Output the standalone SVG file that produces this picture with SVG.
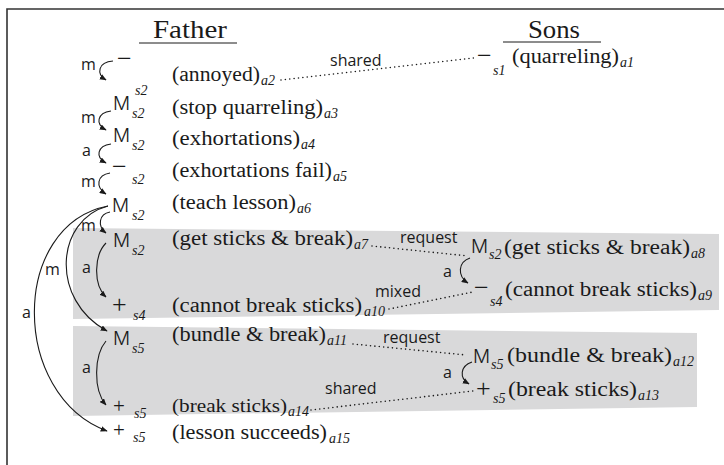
<svg xmlns="http://www.w3.org/2000/svg" width="724" height="465" viewBox="0 0 724 465">
<defs>
<marker id="ah" viewBox="0 0 10 8" refX="9" refY="4" markerWidth="7" markerHeight="6" markerUnits="userSpaceOnUse" orient="auto">
<path d="M0,0 L10,4 L0,8 z" fill="#1a1a1a"/>
</marker>
<style>
text{fill:#1a1a1a}
.arc{fill:none;stroke:#1a1a1a;stroke-width:1.1;marker-end:url(#ah)}
.dot{fill:none;stroke:#1a1a1a;stroke-width:1.6;stroke-dasharray:0 4.4;stroke-linecap:round}
.band{fill:#d9d9da}
.rule{stroke:#1a1a1a;stroke-width:1}
</style>
</defs>
<rect width="724" height="465" fill="#ffffff"/>
<path d="M7,465 L7,9 L724,9" fill="none" stroke="#333" stroke-width="1.6"/>
<polygon class="band" points="73,228 719,234 719,310 73,319"/>
<polygon class="band" points="73,326 697,333 697,407 73,416"/>

<g id="headings">
<text x="153" y="38" font-family="Liberation Serif" font-size="25" textLength="74" lengthAdjust="spacingAndGlyphs">Father</text>
<line class="rule" x1="139" y1="43" x2="237" y2="43"/>
<text x="528" y="38" font-family="Liberation Serif" font-size="25" textLength="52" lengthAdjust="spacingAndGlyphs">Sons</text>
<line class="rule" x1="503" y1="42" x2="601" y2="42"/>
</g>

<g id="nodes">
<g id="a1">
<text x="477" y="64" font-family="Liberation Serif" font-size="26">−</text>
<text x="493" y="75" font-family="Liberation Serif" font-size="14" font-style="italic">s1</text>
<text x="512" y="63" font-family="Liberation Serif" font-size="20" textLength="107" lengthAdjust="spacingAndGlyphs">(quarreling)</text>
<text x="620" y="67" font-family="Liberation Serif" font-size="14" font-style="italic">a1</text>
</g>
<g id="a2">
<text x="117" y="67" font-family="Liberation Serif" font-size="26">−</text>
<text x="135" y="95" font-family="Liberation Serif" font-size="14" font-style="italic">s2</text>
<text x="172" y="81" font-family="Liberation Serif" font-size="20" textLength="88" lengthAdjust="spacingAndGlyphs">(annoyed)</text>
<text x="261" y="85" font-family="Liberation Serif" font-size="14" font-style="italic">a2</text>
</g>
<g id="a3">
<text x="113" y="110" font-family="Inter" font-weight="300" font-size="19">M</text>
<text x="132" y="118" font-family="Liberation Serif" font-size="14" font-style="italic">s2</text>
<text x="172" y="114" font-family="Liberation Serif" font-size="20" textLength="151" lengthAdjust="spacingAndGlyphs">(stop quarreling)</text>
<text x="324" y="118" font-family="Liberation Serif" font-size="14" font-style="italic">a3</text>
</g>
<g id="a4">
<text x="113" y="142" font-family="Inter" font-weight="300" font-size="19">M</text>
<text x="132" y="150" font-family="Liberation Serif" font-size="14" font-style="italic">s2</text>
<text x="172" y="145" font-family="Liberation Serif" font-size="20" textLength="128" lengthAdjust="spacingAndGlyphs">(exhortations)</text>
<text x="301" y="149" font-family="Liberation Serif" font-size="14" font-style="italic">a4</text>
</g>
<g id="a5">
<text x="112" y="175" font-family="Liberation Serif" font-size="26">−</text>
<text x="132" y="184" font-family="Liberation Serif" font-size="14" font-style="italic">s2</text>
<text x="172" y="177" font-family="Liberation Serif" font-size="20" textLength="160" lengthAdjust="spacingAndGlyphs">(exhortations fail)</text>
<text x="333" y="181" font-family="Liberation Serif" font-size="14" font-style="italic">a5</text>
</g>
<g id="a6">
<text x="112" y="212" font-family="Inter" font-weight="300" font-size="19">M</text>
<text x="132" y="220" font-family="Liberation Serif" font-size="14" font-style="italic">s2</text>
<text x="172" y="209" font-family="Liberation Serif" font-size="20" textLength="124" lengthAdjust="spacingAndGlyphs">(teach lesson)</text>
<text x="297" y="213" font-family="Liberation Serif" font-size="14" font-style="italic">a6</text>
</g>
<g id="a7">
<text x="113" y="247" font-family="Inter" font-weight="300" font-size="19">M</text>
<text x="132" y="255" font-family="Liberation Serif" font-size="14" font-style="italic">s2</text>
<text x="172" y="245" font-family="Liberation Serif" font-size="20" textLength="181" lengthAdjust="spacingAndGlyphs">(get sticks &amp; break)</text>
<text x="354" y="249" font-family="Liberation Serif" font-size="14" font-style="italic">a7</text>
</g>
<g id="a8">
<text x="471" y="253" font-family="Inter" font-weight="300" font-size="19">M</text>
<text x="489" y="259" font-family="Liberation Serif" font-size="14" font-style="italic">s2</text>
<text x="504" y="254" font-family="Liberation Serif" font-size="20" textLength="186" lengthAdjust="spacingAndGlyphs">(get sticks &amp; break)</text>
<text x="691" y="258" font-family="Liberation Serif" font-size="14" font-style="italic">a8</text>
</g>
<g id="a9">
<text x="474" y="296" font-family="Liberation Serif" font-size="26">−</text>
<text x="490" y="306" font-family="Liberation Serif" font-size="14" font-style="italic">s4</text>
<text x="505" y="296" font-family="Liberation Serif" font-size="20" textLength="192" lengthAdjust="spacingAndGlyphs">(cannot break sticks)</text>
<text x="698" y="300" font-family="Liberation Serif" font-size="14" font-style="italic">a9</text>
</g>
<g id="a10">
<text x="112" y="313" font-family="Liberation Serif" font-size="26">+</text>
<text x="133" y="320" font-family="Liberation Serif" font-size="14" font-style="italic">s4</text>
<text x="172" y="312" font-family="Liberation Serif" font-size="20" textLength="190" lengthAdjust="spacingAndGlyphs">(cannot break sticks)</text>
<text x="364" y="316" font-family="Liberation Serif" font-size="14" font-style="italic">a10</text>
</g>
<g id="a11">
<text x="113" y="345" font-family="Inter" font-weight="300" font-size="19">M</text>
<text x="132" y="353" font-family="Liberation Serif" font-size="14" font-style="italic">s5</text>
<text x="172" y="341" font-family="Liberation Serif" font-size="20" textLength="154" lengthAdjust="spacingAndGlyphs">(bundle &amp; break)</text>
<text x="327" y="345" font-family="Liberation Serif" font-size="14" font-style="italic">a11</text>
</g>
<g id="a12">
<text x="473" y="363" font-family="Inter" font-weight="300" font-size="19">M</text>
<text x="491" y="369" font-family="Liberation Serif" font-size="14" font-style="italic">s5</text>
<text x="507" y="362" font-family="Liberation Serif" font-size="20" textLength="165" lengthAdjust="spacingAndGlyphs">(bundle &amp; break)</text>
<text x="673" y="366" font-family="Liberation Serif" font-size="14" font-style="italic">a12</text>
</g>
<g id="a13">
<text x="476" y="397" font-family="Liberation Serif" font-size="26">+</text>
<text x="493" y="403" font-family="Liberation Serif" font-size="14" font-style="italic">s5</text>
<text x="508" y="396" font-family="Liberation Serif" font-size="20" textLength="129" lengthAdjust="spacingAndGlyphs">(break sticks)</text>
<text x="638" y="400" font-family="Liberation Serif" font-size="14" font-style="italic">a13</text>
</g>
<g id="a14">
<text x="113" y="413" font-family="Liberation Serif" font-size="21">+</text>
<text x="134" y="418" font-family="Liberation Serif" font-size="14" font-style="italic">s5</text>
<text x="172" y="412" font-family="Liberation Serif" font-size="18" textLength="115" lengthAdjust="spacingAndGlyphs">(break sticks)</text>
<text x="288" y="416" font-family="Liberation Serif" font-size="14" font-style="italic">a14</text>
</g>
<g id="a15">
<text x="113" y="437" font-family="Liberation Serif" font-size="21">+</text>
<text x="133" y="442" font-family="Liberation Serif" font-size="14" font-style="italic">s5</text>
<text x="172" y="439" font-family="Liberation Serif" font-size="20" textLength="155" lengthAdjust="spacingAndGlyphs">(lesson succeeds)</text>
<text x="329" y="443" font-family="Liberation Serif" font-size="14" font-style="italic">a15</text>
</g>
</g>

<g id="connectors">
<path class="arc" d="M113,61 C98,62 96,74 106,80"/>
<text x="81" y="70" font-family="Open Sans" font-size="16">m</text>
<path class="arc" d="M111,111 C97,113 95,124 106,130"/>
<text x="81" y="123" font-family="Open Sans" font-size="16">m</text>
<path class="arc" d="M111,144 C97,146 95,157 106,163"/>
<text x="82" y="156" font-family="Open Sans" font-size="16">a</text>
<path class="arc" d="M110,173 C97,175 95,187 106,194"/>
<text x="81" y="187" font-family="Open Sans" font-size="16">m</text>
<path class="arc" d="M110,212 C99,214 97,226 106,233"/>
<text x="81" y="231" font-family="Open Sans" font-size="16">m</text>
<path class="arc" d="M106,243 C94,255 93,285 106,297"/>
<text x="82" y="273" font-family="Open Sans" font-size="16">a</text>
<path class="arc" d="M106,341 C94,355 93,390 106,405"/>
<text x="82" y="373" font-family="Open Sans" font-size="16">a</text>
<path class="arc" d="M108,206 C55,220 50,300 107,331"/>
<text x="45" y="275" font-family="Open Sans" font-size="16">m</text>
<path class="arc" d="M108,206 C10,225 10,395 107,431"/>
<text x="22" y="318" font-family="Open Sans" font-size="16">a</text>
<path class="arc" d="M470,258 C458,262 457,276 468,283"/>
<text x="443" y="277" font-family="Open Sans" font-size="16">a</text>
<path class="arc" d="M472,362 C460,366 459,378 469,384"/>
<text x="443" y="378" font-family="Open Sans" font-size="16">a</text>

<path class="dot" d="M281,80 L474,58"/>
<text x="330" y="66" font-family="Open Sans" font-size="16">shared</text>
<path class="dot" d="M372,246 L468,256"/>
<text x="400" y="243" font-family="Open Sans" font-size="16">request</text>
<path class="dot" d="M389,309 L473,292"/>
<text x="375" y="297" font-family="Open Sans" font-size="16">mixed</text>
<path class="dot" d="M353,344 L466,355"/>
<text x="383" y="343" font-family="Open Sans" font-size="16">request</text>
<path class="dot" d="M311,410 L473,391"/>
<text x="325" y="394" font-family="Open Sans" font-size="16">shared</text>
</g>
</svg>
